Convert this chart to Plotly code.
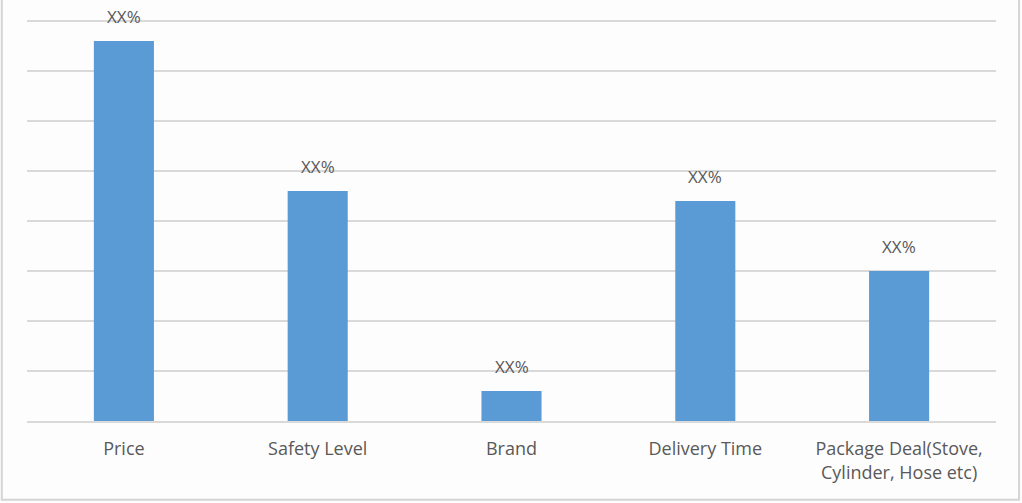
import plotly.graph_objects as go

# Purchase factors and their shares
categories = [
    "Price",
    "Safety Level",
    "Brand",
    "Delivery Time",
    "Package Deal(Stove,<br>Cylinder, Hose etc)",
]
values = [76, 46, 6, 44, 30]
value_labels = ["XX%", "XX%", "XX%", "XX%", "XX%"]

BAR_COLOR = "#5b9bd5"
TEXT_COLOR = "#595959"
GRID_COLOR = "#d9d9d9"
FONT = "'Open Sans', sans-serif"

fig = go.Figure(
    go.Bar(
        x=categories,
        y=values,
        marker=dict(color=BAR_COLOR, line=dict(width=0)),
        hoverinfo="skip",
    )
)

# value labels placed above each bar
for cat, val, lab in zip(categories, values, value_labels):
    fig.add_annotation(
        x=cat,
        y=val,
        text=lab,
        showarrow=False,
        yanchor="middle",
        yshift=25,
        font=dict(family=FONT, size=17, color=TEXT_COLOR),
    )

fig.update_layout(
    width=1022,
    height=503,
    margin=dict(l=27, r=26, t=11, b=82),
    paper_bgcolor="#fdfdfd",
    plot_bgcolor="#fdfdfd",
    bargap=0.69,
    showlegend=False,
    font=dict(family=FONT, size=17, color=TEXT_COLOR),
    xaxis=dict(
        showgrid=False,
        showline=True,
        linecolor=GRID_COLOR,
        linewidth=1.5,
        ticks="",
        ticklabelstandoff=11,
        tickfont=dict(family=FONT, size=18, color=TEXT_COLOR),
        fixedrange=True,
    ),
    yaxis=dict(
        range=[0, 82],
        tickvals=[10, 20, 30, 40, 50, 60, 70, 80],
        showgrid=True,
        gridcolor=GRID_COLOR,
        gridwidth=1.5,
        showticklabels=False,
        zeroline=False,
        ticks="",
        fixedrange=True,
    ),
    shapes=[
        # thin frame around the chart area
        dict(
            type="rect",
            xref="paper",
            yref="paper",
            x0=-0.026,
            x1=1.0238,
            y0=-0.192,
            y1=1.03,
            line=dict(color="#d4d4d4", width=2),
            fillcolor="rgba(0,0,0,0)",
            layer="below",
        )
    ],
)

fig.write_html("out.html")
